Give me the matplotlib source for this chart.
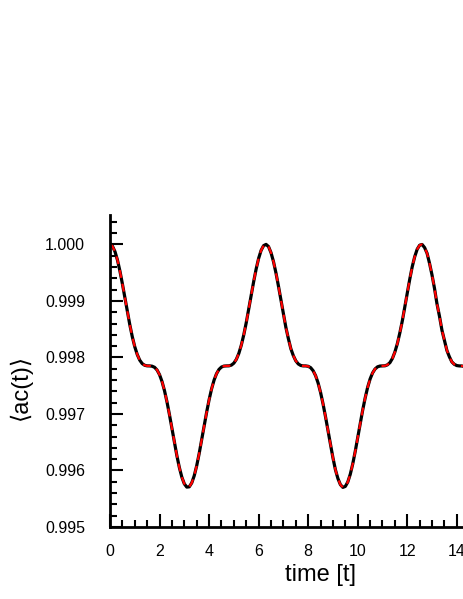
import matplotlib
matplotlib.use("Agg")
import matplotlib.pyplot as plt
from matplotlib.ticker import MultipleLocator

plt.rcParams['font.family'] = ['Liberation Sans', 'DejaVu Sans']

# time samples and autocorrelation values
time = [0.0, 0.1, 0.2, 0.3, 0.4, 0.5, 0.6, 0.7, 0.8, 0.9,
        1.0, 1.1, 1.2, 1.3, 1.4, 1.5, 1.6, 1.7, 1.8, 1.9,
        2.0, 2.1, 2.2, 2.3, 2.4, 2.5, 2.6, 2.7, 2.8, 2.9,
        3.0, 3.1, 3.2, 3.3, 3.4, 3.5, 3.6, 3.7, 3.8, 3.9,
        4.0, 4.1, 4.2, 4.3, 4.4, 4.5, 4.6, 4.7, 4.8, 4.9,
        5.0, 5.1, 5.2, 5.3, 5.4, 5.5, 5.6, 5.7, 5.8, 5.9,
        6.0, 6.1, 6.2, 6.3, 6.4, 6.5, 6.6, 6.7, 6.8, 6.9,
        7.0, 7.1, 7.2, 7.3, 7.4, 7.5, 7.6, 7.7, 7.8, 7.9,
        8.0, 8.1, 8.2, 8.3, 8.4, 8.5, 8.6, 8.7, 8.8, 8.9,
        9.0, 9.1, 9.2, 9.3, 9.4, 9.5, 9.6, 9.7, 9.8, 9.9,
        10.0, 10.1, 10.2, 10.3, 10.4, 10.5, 10.6, 10.7, 10.8, 10.9,
        11.0, 11.1, 11.2, 11.3, 11.4, 11.5, 11.6, 11.7, 11.8, 11.9,
        12.0, 12.1, 12.2, 12.3, 12.4, 12.5, 12.6, 12.7, 12.8, 12.9,
        13.0, 13.1, 13.2, 13.3, 13.4, 13.5, 13.6, 13.7, 13.8, 13.9,
        14.0, 14.1, 14.2, 14.3]
ac = [1.000000, 0.999968, 0.999874, 0.999725, 0.999530, 0.999303, 0.999059, 0.998812, 0.998577, 0.998366,
      0.998189, 0.998051, 0.997952, 0.997891, 0.997861, 0.997851, 0.997850, 0.997845, 0.997825, 0.997777,
      0.997695, 0.997573, 0.997412, 0.997214, 0.996988, 0.996744, 0.996497, 0.996261, 0.996052, 0.995882,
      0.995764, 0.995706, 0.995711, 0.995780, 0.995907, 0.996084, 0.996300, 0.996538, 0.996786, 0.997028,
      0.997250, 0.997442, 0.997597, 0.997712, 0.997788, 0.997830, 0.997847, 0.997850, 0.997851, 0.997864,
      0.997899, 0.997966, 0.998071, 0.998216, 0.998400, 0.998615, 0.998853, 0.999100, 0.999343, 0.999565,
      0.999753, 0.999894, 0.999978, 1.000000, 0.999961, 0.999853, 0.999695, 0.999493, 0.999263, 0.999016,
      0.998771, 0.998531, 0.998334, 0.998155, 0.998032, 0.997940, 0.997885, 0.997858, 0.997850, 0.997850,
      0.997843, 0.997819, 0.997765, 0.997677, 0.997549, 0.997381, 0.997178, 0.996951, 0.996703, 0.996464,
      0.996224, 0.996013, 0.995858, 0.995750, 0.995701, 0.995718, 0.995797, 0.995934, 0.996118, 0.996339,
      0.996580, 0.996825, 0.997067, 0.997282, 0.997470, 0.997619, 0.997726, 0.997796, 0.997834, 0.997848,
      0.997850, 0.997852, 0.997869, 0.997908, 0.997982, 0.998095, 0.998245, 0.998434, 0.998646, 0.998895,
      0.999142, 0.999383, 0.999604, 0.999781, 0.999914, 0.999986, 0.999998, 0.999943, 0.999842, 0.999663,
      0.999457, 0.999221, 0.998947, 0.998730, 0.998482, 0.998299, 0.998124, 0.998012, 0.997921, 0.997878,
      0.997856, 0.997850, 0.997849, 0.997841]

fig = plt.figure(figsize=(4.63, 5.99), dpi=100)
ax = fig.add_axes([110 / 463, 1 - 527 / 599, 1 - 110 / 463, (527 - 215) / 599])

ax.plot(time, ac, color="black", linewidth=2.3, solid_joinstyle="round")
ax.plot(time, ac, color="red", linewidth=1.6, linestyle=(0, (3.6, 2.7)))

ax.set_xlim(0, 14.25)
ax.set_ylim(0.995, 1.00052)

ax.xaxis.set_major_locator(MultipleLocator(2))
ax.xaxis.set_minor_locator(MultipleLocator(0.5))
ax.yaxis.set_major_locator(MultipleLocator(0.001))
ax.yaxis.set_minor_locator(MultipleLocator(0.0002))
ax.yaxis.set_major_formatter(plt.FormatStrFormatter("%.3f"))

for side in ["top", "right"]:
    ax.spines[side].set_visible(False)
for side in ["left", "bottom"]:
    ax.spines[side].set_linewidth(2)

ax.tick_params(which="major", direction="in", length=9.5, width=1.5, labelsize=11.5)
ax.tick_params(which="minor", direction="in", length=5, width=1.5)
ax.tick_params(axis="x", which="major", pad=12)
ax.tick_params(axis="y", which="major", pad=18)

ax.set_xlabel("time [t]", fontsize=17)
ax.set_ylabel("\u27e8ac(t)\u27e9", fontsize=17)
ax.xaxis.set_label_coords(0.595, -0.12)
ax.yaxis.set_label_coords(-0.22, 0.45)

fig.savefig("out.png", dpi=100)
